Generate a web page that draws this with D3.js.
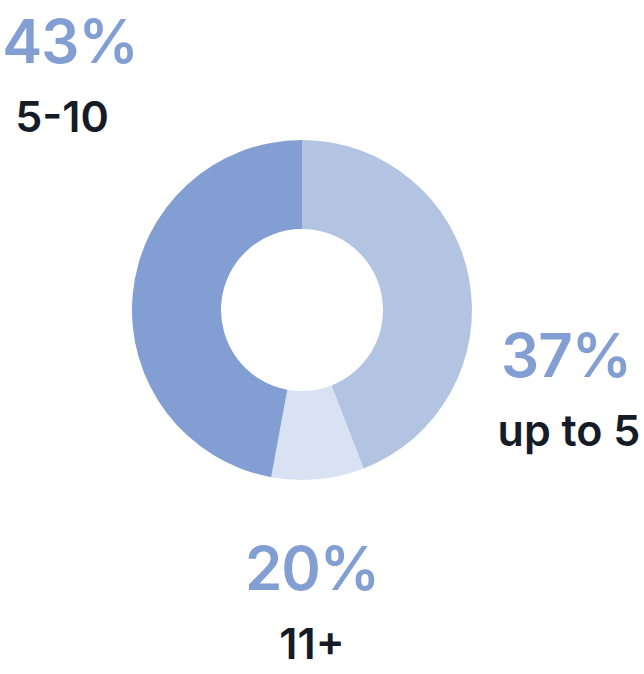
<!DOCTYPE html>
<html>
<head>
<meta charset="utf-8">
<script src="https://cdn.jsdelivr.net/npm/d3@7"></script>
<style>
  html, body { margin: 0; padding: 0; background: #fff; }
  svg { display: block; }
</style>
</head>
<body>
<div id="chart"></div>
<script>
// categories, in drawing order (clockwise from 12 o'clock)
const categories = ["up to 5", "11+", "5-10"];
// printed percentage labels
const pct_labels = ["37%", "20%", "43%"];
// slice sizes
const slice_values = [44.1, 8.8, 47.1];
const slice_colors = ["#b3c4e2", "#d9e2f2", "#829ed2"];

const width = 644;
const height = 674;
const cx = 302, cy = 310;
const outer_r = 170, inner_r = 81;

// label placement: x of percentage, x of category, baseline of percentage
const label_pos = {
  "up to 5": { px: 566, cx: 569, y: 377 },
  "11+": { px: 312, cx: 312, y: 590 },
  "5-10": { px: 70, cx: 62, y: 63 }
};

const svg = d3.select("#chart")
  .append("svg")
  .attr("width", width)
  .attr("height", height);

const pie = d3.pie()
  .sort(null)
  .value(d => d.value);

const arc = d3.arc()
  .innerRadius(inner_r)
  .outerRadius(outer_r);

const data = categories.map((c, i) => ({ cat: c, value: slice_values[i], pct: pct_labels[i] }));

const g = svg.append("g")
  .attr("transform", `translate(${cx},${cy})`);

g.selectAll("path")
  .data(pie(data))
  .enter()
  .append("path")
  .attr("d", arc)
  .attr("fill", (d, i) => slice_colors[i]);

// labels: big percentage on top, category underneath
const labels = svg.selectAll("g.label")
  .data(data)
  .enter()
  .append("g")
  .attr("class", "label");

labels.append("text")
  .attr("x", d => label_pos[d.cat].px)
  .attr("y", d => label_pos[d.cat].y)
  .attr("text-anchor", "middle")
  .attr("font-family", "Inter, 'Open Sans', sans-serif")
  .attr("font-weight", 600)
  .attr("font-size", 60)
  .attr("letter-spacing", -1)
  .attr("fill", "#829ed2")
  .text(d => d.pct);

labels.append("text")
  .attr("x", d => label_pos[d.cat].cx)
  .attr("y", d => label_pos[d.cat].y + 69)
  .attr("text-anchor", "middle")
  .attr("font-family", "Inter, 'Open Sans', sans-serif")
  .attr("font-weight", 600)
  .attr("font-size", 43)
  .attr("fill", "#151b27")
  .text(d => d.cat);
</script>
</body>
</html>
